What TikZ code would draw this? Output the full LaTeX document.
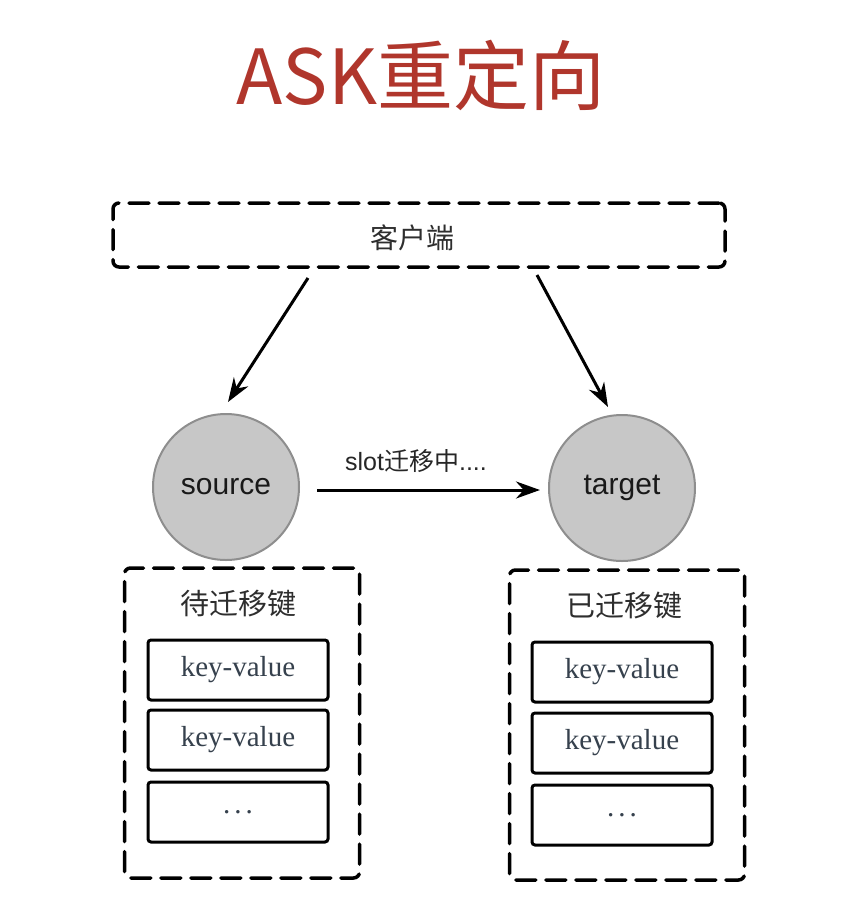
\documentclass[tikz,border=0pt]{standalone}
\usepackage{fontspec}
\newfontfamily\cjk{Noto Sans CJK SC}
\newfontfamily\lsans{Liberation Sans}
\newfontfamily\lserif{Liberation Serif}
\usetikzlibrary{arrows.meta,calc}
\definecolor{titlered}{HTML}{B0362C}
\definecolor{circfill}{HTML}{C7C7C7}
\definecolor{circline}{HTML}{8E8E8E}
\definecolor{kvtext}{HTML}{36414D}
\definecolor{darktext}{HTML}{2E2E2E}
\tikzset{
  dashbox/.style={draw=black, line width=3.5pt, dash pattern=on 20pt off 10pt, line cap=round, rounded corners=6pt, inner sep=0pt},
  kvbox/.style={draw=black, line width=3pt, rounded corners=3pt, minimum width=180pt, minimum height=60pt, inner sep=0pt, font=\lserif\fontsize{29}{32}\selectfont, text=kvtext},
  server/.style={circle, fill=circfill, draw=circline, line width=2pt, minimum size=146pt, inner sep=0pt, font=\lsans\fontsize{30}{34}\selectfont, text=black!90},
  conn/.style={draw=black, line width=3pt, -{Stealth[length=24pt,width=17pt]}},
  boxtitle/.style={font=\cjk\fontsize{29}{32}\selectfont, text=darktext}
}
\newcommand{\kvdots}{.\hspace{4pt}.\hspace{4pt}.}
\begin{document}
\begin{tikzpicture}[x=1pt,y=-1pt]
\useasboundingbox (0,0) rectangle (848,922);
\fill[white] (0,0) rectangle (848,922);
% title
\node[font=\cjk\fontsize{76}{80}\selectfont, text=titlered] (title) at (421,75) {ASK重定向};
% client
\node[dashbox, minimum width=612pt, minimum height=64pt] (client) at (419,235) {};
\node[font=\cjk\fontsize{28}{32}\selectfont, text=darktext] (clientlbl) at (412,238) {客户端};
% servers
\node[server] (source) at (226,487) {source};
\node[server] (target) at (622,488) {target};
% arrows from client
\coordinate (a1s) at (308,278);
\coordinate (a1e) at (228,402);
\coordinate (a2s) at (537,275);
\coordinate (a2e) at (608,407);
\draw[conn] (a1s) -- (a1e);
\draw[conn] (a2s) -- (a2e);
% migration arrow
\draw[conn, shorten <=17pt, shorten >=8pt] (source.east |- 0,490) -- (target.west |- 0,490);
\node[font=\lsans\fontsize{25}{28}\selectfont, text=black!85] (slotlbl) at (416,461) {slot{\cjk 迁移中}....};
% left group
\node[dashbox, minimum width=235pt, minimum height=310pt] (leftgrp) at (242,723) {};
\node[boxtitle] (lefttitle) at (238,603) {待迁移键};
\node[kvbox] (lkv1) at (238,670) {key-value};
\node[kvbox] (lkv2) at (238,740) {key-value};
\node[kvbox] (lkv3) at (238,812) {\kvdots};
% right group
\node[dashbox, minimum width=235pt, minimum height=310pt] (rightgrp) at (627,725) {};
\node[boxtitle] (righttitle) at (624,605) {已迁移键};
\node[kvbox] (rkv1) at (622,672) {key-value};
\node[kvbox] (rkv2) at (622,743) {key-value};
\node[kvbox] (rkv3) at (622,815) {\kvdots};
\end{tikzpicture}
\end{document}
